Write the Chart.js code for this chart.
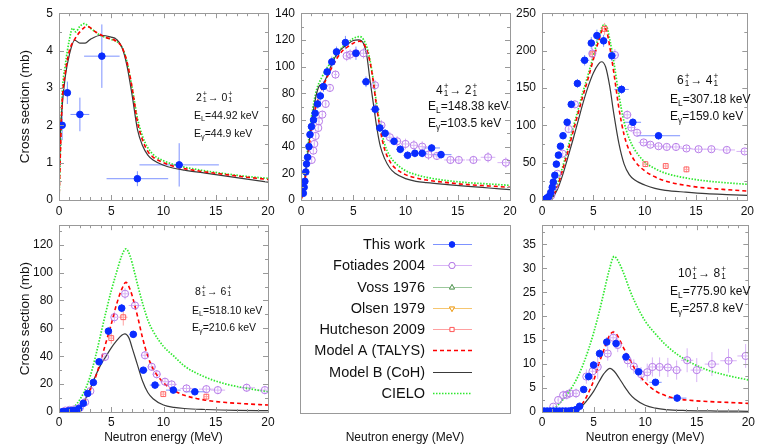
<!DOCTYPE html>
<html>
<head>
<meta charset="utf-8">
<script src="https://cdn.jsdelivr.net/npm/chart.js@4/dist/chart.umd.min.js"></script>
<style>
body { margin: 0; background: #fff; }
#wrap { position: relative; width: 758px; height: 447px; overflow: hidden; font-family: 'Liberation Sans', Arial, Helvetica, sans-serif; }
.ann { position: absolute; color: #111; white-space: nowrap; line-height: 1; }
.ss { display: inline-flex; flex-direction: column; vertical-align: middle; font-size: 0.68em; line-height: 0.8em; margin: 0 1px; }
.ann sub { font-size: 0.7em; vertical-align: -0.3em; line-height: 0; }
</style>
</head>
<body>
<div id="wrap"></div>
<script>
// [x (MeV), sigma (mb), x error, sigma error]
const p1ThisWork = [[0.3,2.0,0.15,0.4],[0.8,2.87,0.2,0.3],[2.0,2.29,0.9,0.45],[4.1,3.85,1.7,0.85],[7.5,0.57,2.95,0.2],[11.5,0.94,3.8,0.58]];
const p1ModelA = [[0,0],[0.3,2.6],[0.6,3.4],[1,4.0],[1.5,4.3],[2,4.5],[2.7,4.65],[3.5,4.5],[4.5,4.35],[5.5,4.25],[6,4.1],[6.5,3.7],[7,3.0],[7.5,2.1],[8,1.6],[8.5,1.3],[9,1.15],[10,1.0],[11,0.9],[12,0.84],[14,0.75],[16,0.68],[18,0.61],[20,0.55]];
const p1ModelB = [[0,0],[0.1,1.5],[0.3,2.5],[0.6,3.3],[1,3.9],[1.5,4.28],[2,4.2],[2.5,4.2],[3,4.3],[4,4.41],[5,4.36],[5.5,4.3],[6,4.1],[6.5,3.6],[7,2.8],[7.5,1.9],[8,1.45],[8.5,1.2],[9,1.07],[10,0.93],[11,0.85],[12,0.8],[14,0.72],[16,0.64],[18,0.56],[20,0.48]];
const p1Cielo = [[0,0],[0.3,2.8],[0.6,3.6],[1,4.3],[1.3,4.6],[1.6,4.5],[2,4.65],[2.4,4.72],[3,4.6],[4,4.4],[5,4.3],[6,4.1],[6.5,3.7],[7,3.0],[7.5,2.2],[8,1.7],[8.5,1.4],[9,1.22],[10,1.05],[12,0.88],[14,0.78],[16,0.7],[18,0.63],[20,0.58]];

const p2ThisWork = [[0.22,5,0.05,2],[0.3,9.5,0.05,2],[0.37,14,0.05,2],[0.46,21,0.05,2.5],[0.53,27,0.05,2.5],[0.63,32,0.05,3],[0.76,40,0.06,3],[0.86,49,0.06,3],[1.0,55,0.07,3],[1.2,60,0.08,3],[1.35,65,0.08,3],[1.6,72,0.1,3.5],[1.85,78,0.1,3.5],[2.15,85,0.12,4],[2.5,96,0.12,4],[2.95,103.5,0.15,4],[3.4,111,0.2,4],[4.25,118,0.3,5],[5.26,110,0.4,5],[6.22,88.6,0.4,4],[7.1,68,0.45,4],[7.55,54,0.3,3],[8.05,50,0.35,3],[8.9,44,0.4,3],[9.5,38,0.4,3],[10.2,33.5,0.4,3],[10.9,35,0.4,3],[11.6,35,0.5,3],[12.5,39,0.8,3],[13.4,34,1.0,3]];
const p2Fotiades = [[1.02,30,0.05,3],[1.18,37,0.05,3],[1.27,42,0.05,3],[1.4,48,0.06,3],[1.65,54,0.06,3],[1.72,59,0.06,3],[2.04,64,0.08,3],[2.36,72,0.1,3],[2.77,84,0.12,3],[3.3,94,0.15,3],[4.37,108,0.2,4],[4.7,109,0.2,4],[5.24,110,0.25,4],[5.98,110,0.3,4],[7.08,86,0.3,4],[7.7,56,0.3,4],[8.5,47,0.35,4],[9.2,44,0.4,4],[10.0,42,0.4,4],[10.8,41,0.4,4],[11.6,40,0.5,4],[12.2,34,0.5,4],[13.0,33,0.5,3],[14.3,30,0.6,3],[15.1,30,0.6,3],[16.5,30,0.7,3],[17.9,32,0.7,4],[19.6,28,0.8,4]];
const p2ModelA = [[0,0],[0.25,7],[0.5,22],[0.75,38],[1,52],[1.25,64],[1.5,72],[2,83],[2.5,92],[3,100],[3.5,107],[4,112],[4.5,115],[5,117.5],[5.6,119],[6,117],[6.4,110],[6.8,95],[7.2,72],[7.6,52],[8,38],[8.5,29],[9,24],[10,19],[11,16.5],[12,15],[14,13],[16,11.5],[18,10.5],[20,9.5]];
const p2ModelB = [[0,0],[0.25,8],[0.5,25],[0.75,42],[1,57],[1.25,70],[1.5,80],[1.8,86],[2.1,87],[2.5,93],[3,103],[3.5,110],[4,114],[4.5,117],[5,119.5],[5.5,120],[6,117],[6.3,108],[6.6,90],[7,68],[7.3,52],[7.6,40],[8,31],[8.5,24],[9,20],[10,16],[11,14],[12,13],[14,11.5],[16,10.2],[18,9],[20,7.8]];
const p2Cielo = [[0,0],[0.25,9],[0.5,28],[0.75,46],[1,62],[1.25,74],[1.5,83],[2,92],[2.5,99],[3,105],[3.5,110],[4,115],[4.5,118],[5,121],[5.6,122.5],[6,120],[6.4,112],[6.8,96],[7.2,74],[7.6,55],[8,42],[8.5,33],[9,28],[10,22],[11,19],[12,17],[14,14.5],[16,13],[18,12],[20,11]];

const p3ThisWork = [[0.1,0.5,0.05,1],[0.3,1,0.05,1],[0.5,3,0.05,1.5],[0.7,5,0.05,2],[0.85,10,0.05,2],[1.0,17,0.05,3],[1.1,24,0.05,3],[1.25,33,0.06,3],[1.4,48,0.07,4],[1.6,60,0.08,4],[1.8,72,0.1,4],[2.05,86,0.1,4],[2.45,104,0.12,5],[2.85,128,0.15,5],[3.45,156,0.2,6],[4.15,187,0.45,7],[4.8,210,0.3,8],[5.35,220,0.3,8],[6.0,213,0.3,8],[6.8,193,0.35,7],[7.75,148,0.7,6],[8.85,104,0.8,5],[11.35,86,2.1,5]];
const p3Fotiades = [[0.6,2,0.05,1],[0.9,6,0.05,2],[1.2,18,0.06,3],[1.5,35,0.08,3],[2.0,62,0.1,4],[2.6,95,0.12,5],[3.2,128,0.15,5],[4.9,196,0.25,8],[7.1,194,0.35,8],[8.3,114,0.4,6],[8.7,97,0.4,5],[9.26,90,0.45,5],[9.9,77,0.5,4],[10.55,74,0.5,4],[11.35,72,0.5,4],[12.15,71,0.55,4],[13.05,71,0.6,4],[14.07,69,0.6,4],[15.25,68,0.7,4],[16.5,68,0.7,4],[18.0,67,0.8,4],[19.74,65,0.8,4]];
const p3Hutcheson = [[4.9,195,0.2,6],[6.1,229,0.2,8],[10.07,48,0.2,4],[12.05,45.5,0.2,4],[14.07,41,0.2,4]];
const p3ModelA = [[0,0],[0.5,0.5],[1,4],[1.5,18],[2,40],[2.5,64],[3,90],[3.5,115],[4,140],[4.5,163],[5,188],[5.5,212],[6,230],[6.3,226],[6.6,205],[7,170],[7.5,122],[8,87],[8.5,66],[9,53],[10,39],[11,31],[12,25.5],[14,19.5],[16,16],[18,13.8],[20,12]];
const p3ModelB = [[0,0],[0.5,0.5],[1,3],[1.5,14],[2,33],[2.5,56],[3,80],[3.5,105],[4,130],[4.5,152],[5,170],[5.5,182],[5.8,185],[6.2,178],[6.6,152],[7,115],[7.5,75],[8,48],[8.5,34],[9,27],[10,20],[11,15.5],[12,13],[14,10.5],[16,8.5],[18,7.3],[20,6.3]];
const p3Cielo = [[0,0],[0.5,0.6],[1,5],[1.5,21],[2,44],[2.5,69],[3,95],[3.5,120],[4,145],[4.5,168],[5,193],[5.5,217],[6,234],[6.3,232],[6.6,215],[7,184],[7.5,140],[8,104],[8.5,82],[9,68],[10,51],[11,42],[12,36],[14,29.5],[16,25.5],[18,23],[20,21]];

const p4ThisWork = [[0.3,0.2,0.05,0.5],[0.57,0.3,0.05,0.5],[0.9,0.8,0.05,0.5],[1.2,1.0,0.05,0.6],[1.5,1.2,0.06,0.6],[1.9,2.5,0.08,0.8],[2.33,6.2,0.1,1],[2.74,13.3,0.12,1.5],[3.29,21.2,0.15,2],[3.83,36,0.2,2],[4.73,58,0.25,2.5],[6.0,74.5,0.3,3],[7.11,55.7,0.35,2.5],[8.07,30,0.4,2],[9.19,19.3,0.5,2],[10.94,15.7,0.7,2],[13.0,14.5,1.0,2]];
const p4Fotiades = [[0.6,1,0.1,1],[1.0,1.5,0.1,1],[1.5,2,0.1,1],[2.0,3,0.1,1.5],[2.5,7,0.1,1.5],[3.0,15,0.15,2],[4.4,39.5,0.2,3],[5.3,68,0.25,4],[6.32,84.8,0.3,4],[7.27,76.4,0.6,3],[8.23,40.7,0.4,3],[8.87,32.4,0.4,3],[9.35,27.1,0.4,3],[10.14,21.7,0.5,3],[10.78,19.8,0.5,3],[12.2,16.9,0.6,3],[14.1,16.4,0.7,3],[15.2,15.7,0.7,3],[17.96,17.4,0.8,3],[19.7,15.7,0.8,3]];
const p4Hutcheson = [[5.0,53,0.2,4],[6.15,68,0.4,6],[9.98,12.8,0.2,2],[14.1,11,0.2,2]];
const p4ModelA = [[0,0],[1,0.3],[1.5,1],[2,3],[2.5,8],[3,16],[3.5,25],[4,37],[4.5,50],[5,63],[5.5,77],[6,88],[6.4,93],[6.8,88],[7.2,78],[7.6,66],[8,53],[8.5,40],[9,31],[10,21],[11,15.5],[12,12],[14,8.5],[16,6.8],[18,5.8],[20,5]];
const p4ModelB = [[0,0],[1,0.2],[1.5,1],[2,4],[2.5,9],[3,17],[3.5,26],[4,34],[4.5,40],[5,46],[5.5,51],[6,55],[6.3,56],[6.7,53],[7,46],[7.5,34],[8,22],[8.5,14],[9,9.5],[10,5],[11,3.3],[12,2.5],[14,1.8],[17,1.2],[20,1]];
const p4Cielo = [[0,0],[1,1.5],[1.5,4],[2,9],[2.5,16],[3,26],[3.5,40],[4,56],[4.5,72],[5,87],[5.5,100],[6,112],[6.4,117],[6.8,112],[7.2,101],[7.6,89],[8,78],[8.5,66],[9,58],[10,47],[11,40],[12,33],[14,25],[16,20],[18,17],[20,14.5]];

const p6ThisWork = [[0.2,0.2,0.1,0.3],[0.5,0.2,0.1,0.3],[0.8,0.2,0.1,0.3],[1.1,0.2,0.1,0.3],[1.4,0.2,0.1,0.3],[1.7,0.2,0.1,0.3],[2.0,0.2,0.1,0.3],[2.3,0.2,0.1,0.3],[2.6,0.2,0.1,0.3],[2.9,0.3,0.1,0.3],[3.3,0.5,0.1,0.3],[3.65,1.2,0.15,0.4],[4.04,4.7,0.15,0.6],[4.52,7.4,0.2,0.8],[5.0,9.8,0.2,0.8],[5.58,12.2,0.25,0.9],[6.28,14.6,0.3,1],[7.18,14.3,0.3,1],[8.14,11.5,0.4,0.9],[9.36,8.4,0.45,0.8],[11.0,6.2,0.6,0.7],[13.1,2.9,0.9,0.5]];
const p6Fotiades = [[1.09,1.1,0.1,0.5],[1.57,2.5,0.1,0.8],[2.05,3.5,0.15,1],[2.4,3.6,0.15,1],[2.7,3.9,0.15,1],[3.3,3.9,0.2,1],[4.3,7.4,0.2,1.5],[4.9,8.5,0.2,2],[5.4,9.4,0.25,2.5],[6.37,12.2,0.3,1.5],[6.9,15.5,0.3,1.5],[7.34,14,0.3,1.5],[8.3,10.8,0.4,1.5],[8.9,9.5,0.4,1.5],[9.6,7.9,0.4,1.5],[10.2,8.3,0.4,1.8],[10.7,9.4,0.4,2],[11.4,9.4,0.5,2],[12.2,9.3,0.5,2],[13.05,8.75,0.5,2],[14.07,10.8,0.6,2.5],[15.0,8.75,0.6,2.5],[16.47,10,0.7,2.5],[18.08,10.7,0.8,2.5],[19.74,11.7,0.8,2.5]];
const p6ModelA = [[0,0],[2,0],[3,0.3],[3.5,0.8],[4,2],[4.5,4],[5,6.5],[5.5,10],[6,13],[6.5,15.8],[6.9,16.7],[7.3,16],[7.7,14.3],[8,13],[8.5,11],[9,9],[10,6.2],[11,4.4],[12,3.4],[13,2.8],[14,2.5],[16,2.2],[18,2.0],[20,1.8]];
const p6ModelB = [[0,0],[3,0.2],[3.5,0.6],[4,1.5],[4.5,2.8],[5,4.3],[5.5,6.2],[6,8],[6.6,9.1],[7,8.5],[7.5,7],[8,5.3],[8.5,3.8],[9,2.7],[10,1.4],[11,0.8],[12,0.5],[14,0.3],[17,0.2],[20,0.15]];
const p6Cielo = [[0,0],[1,0.5],[2,2.5],[3,5.5],[3.5,7.5],[4,10],[4.5,13],[5,16.5],[5.5,20.5],[6,25],[6.5,29.5],[7,32.5],[7.5,31],[8,28.5],[8.5,25.5],[9,23],[10,19],[11,16.3],[12,14],[13,12.2],[14,10.8],[15,9.7],[16,8.8],[18,7.6],[20,6.7]];

const transitions = [['2','0'],['4','2'],['6','4'],['8','6'],['10','8']];
const levelEnergies = ['44.92','148.38','307.18','518.10','775.90'];
const gammaEnergies = ['44.9','103.5','159.0','210.6','257.8'];
const legendNames = ['This work','Fotiades 2004','Voss 1976','Olsen 1979','Hutcheson 2009','Model A (TALYS)','Model B (CoH)','CIELO'];

Chart.defaults.font.family = "'Liberation Sans', Arial, Helvetica, sans-serif";
Chart.defaults.color = '#111';
Chart.defaults.animation = false;

const look = {
  'This work': {color: '#0a2cff', err: '#7d92ff', marker: 'circle', fill: true, r: 3.3},
  'Fotiades 2004': {color: '#b77ce8', err: '#d8b4f6', marker: 'circle', fill: false, r: 3.6},
  'Voss 1976': {color: '#5a9a5a', err: '#9cc89c', marker: 'triangle', fill: false, r: 3.5},
  'Olsen 1979': {color: '#f0a020', err: '#f6c670', marker: 'triangle', rot: 180, fill: false, r: 3.5},
  'Hutcheson 2009': {color: '#ff6060', err: '#ffa0a0', marker: 'rect', fill: false, r: 3.4},
  'Model A (TALYS)': {color: '#ff0000', dash: [4, 3], width: 1.6},
  'Model B (CoH)': {color: '#3a3a3a', dash: [], width: 1.2},
  'CIELO': {color: '#2ee82e', dash: [1.5, 1.5], width: 1.7}
};

const errorBars = {
  id: 'errorBars',
  beforeDatasetsDraw(chart) {
    const ctx = chart.ctx, xs = chart.scales.x, ys = chart.scales.y, a = chart.chartArea;
    ctx.save();
    ctx.beginPath();
    ctx.rect(a.left, a.top, a.right - a.left, a.bottom - a.top);
    ctx.clip();
    ctx.lineWidth = 1;
    chart.data.datasets.forEach(ds => {
      if (!ds.errColor) return;
      ctx.strokeStyle = ds.errColor;
      ds.data.forEach(p => {
        const x = xs.getPixelForValue(p.x), y = ys.getPixelForValue(p.y);
        ctx.beginPath();
        ctx.moveTo(xs.getPixelForValue(p.x - p.xe), y);
        ctx.lineTo(xs.getPixelForValue(p.x + p.xe), y);
        ctx.moveTo(x, ys.getPixelForValue(p.y - p.ye));
        ctx.lineTo(x, ys.getPixelForValue(p.y + p.ye));
        ctx.stroke();
      });
    });
    ctx.restore();
  }
};

// gnuplot-like box with inward ticks on all sides
const frame = {
  id: 'frame',
  afterDraw(chart) {
    const ctx = chart.ctx, xs = chart.scales.x, ys = chart.scales.y, a = chart.chartArea;
    ctx.save();
    ctx.strokeStyle = '#999';
    ctx.lineWidth = 1;
    ctx.strokeRect(Math.round(a.left) + 0.5, Math.round(a.top) + 0.5, Math.round(a.right - a.left), Math.round(a.bottom - a.top));
    ctx.beginPath();
    for (let v = 0; v <= 20; v++) {
      const len = v % 5 === 0 ? 5 : 3;
      const x = Math.round(xs.getPixelForValue(v)) + 0.5;
      ctx.moveTo(x, a.bottom); ctx.lineTo(x, a.bottom - len);
      ctx.moveTo(x, a.top); ctx.lineTo(x, a.top + len);
    }
    const step = ys.options.ticks.stepSize / 2;
    for (let i = 0; i * step <= ys.max + 1e-9; i++) {
      const len = i % 2 === 0 ? 5 : 3;
      const y = Math.round(ys.getPixelForValue(i * step)) + 0.5;
      ctx.moveTo(a.left, y); ctx.lineTo(a.left + len, y);
      ctx.moveTo(a.right, y); ctx.lineTo(a.right - len, y);
    }
    ctx.stroke();
    ctx.restore();
  }
};

function points(name, rows) {
  const s = look[name];
  return {
    label: name,
    data: rows.map(r => ({x: r[0], y: r[1], xe: r[2], ye: r[3]})),
    showLine: false,
    pointStyle: s.marker,
    rotation: s.rot || 0,
    pointRadius: s.r,
    pointBorderWidth: 1,
    pointBorderColor: s.color,
    pointBackgroundColor: s.fill ? s.color : 'rgba(255,255,255,0)',
    borderColor: s.color,
    backgroundColor: s.color,
    errColor: s.err
  };
}

function curve(name, rows) {
  const s = look[name];
  return {
    label: name,
    data: rows.map(r => ({x: r[0], y: r[1]})),
    borderColor: s.color,
    borderWidth: s.width,
    borderDash: s.dash,
    pointRadius: 0,
    cubicInterpolationMode: 'monotone',
    fill: false
  };
}

function addCanvas(box) {
  const c = document.createElement('canvas');
  c.width = box.w;
  c.height = box.h;
  c.style.cssText = 'position:absolute;left:' + box.l + 'px;top:' + box.t + 'px';
  document.getElementById('wrap').appendChild(c);
  return c;
}

function panel(box, yMax, yStep, datasets) {
  new Chart(addCanvas(box), {
    type: 'line',
    data: {datasets: datasets},
    options: {
      responsive: false,
      layout: {padding: {left: 0, right: box.pr, top: 13, bottom: 0}},
      plugins: {legend: {display: false}, tooltip: {enabled: false}},
      scales: {
        x: {
          type: 'linear', min: 0, max: 20,
          ticks: {stepSize: 5, padding: box.bottomRow ? 3 : 4, font: {size: 12}, maxRotation: 0},
          grid: {display: false, drawTicks: false},
          border: {display: false},
          title: {display: box.bottomRow, text: 'Neutron energy (MeV)', font: {size: 12}, padding: {top: 0, bottom: 2}},
          afterFit: s => { s.height = box.bottomRow ? 35 : 22; }
        },
        y: {
          type: 'linear', min: 0, max: yMax,
          ticks: {stepSize: yStep, includeBounds: false, padding: 6, font: {size: 12}},
          grid: {display: false, drawTicks: false},
          border: {display: false},
          title: {display: box.yTitle, text: 'Cross section (mb)', font: {size: 13.5}, padding: {top: 17, bottom: 0}},
          afterFit: s => { s.width = box.yw; }
        }
      }
    },
    plugins: [errorBars, frame]
  });
}

panel({l: 0, t: 0, w: 280, h: 222, pr: 12, yw: 59, yTitle: true}, 5, 1, [
  points('This work', p1ThisWork),
  curve('Model A (TALYS)', p1ModelA), curve('Model B (CoH)', p1ModelB), curve('CIELO', p1Cielo)
]);
panel({l: 262, t: 0, w: 260, h: 222, pr: 12, yw: 39}, 140, 20, [
  points('This work', p2ThisWork), points('Fotiades 2004', p2Fotiades),
  curve('Model A (TALYS)', p2ModelA), curve('Model B (CoH)', p2ModelB), curve('CIELO', p2Cielo)
]);
panel({l: 503, t: 0, w: 255, h: 222, pr: 8, yw: 39}, 250, 50, [
  points('This work', p3ThisWork), points('Fotiades 2004', p3Fotiades), points('Hutcheson 2009', p3Hutcheson),
  curve('Model A (TALYS)', p3ModelA), curve('Model B (CoH)', p3ModelB), curve('CIELO', p3Cielo)
]);
panel({l: 0, t: 212, w: 280, h: 235, pr: 12, yw: 59, yTitle: true, bottomRow: true}, 134, 20, [
  points('This work', p4ThisWork), points('Fotiades 2004', p4Fotiades), points('Hutcheson 2009', p4Hutcheson),
  curve('Model A (TALYS)', p4ModelA), curve('Model B (CoH)', p4ModelB), curve('CIELO', p4Cielo)
]);
panel({l: 503, t: 212, w: 255, h: 235, pr: 8, yw: 39, bottomRow: true}, 39, 5, [
  points('This work', p6ThisWork), points('Fotiades 2004', p6Fotiades),
  curve('Model A (TALYS)', p6ModelA), curve('Model B (CoH)', p6ModelB), curve('CIELO', p6Cielo)
]);

// legend panel: a chart with empty series, its key drawn in a box
const legendBox = {
  id: 'legendBox',
  afterDraw(chart) {
    const ctx = chart.ctx, a = chart.chartArea;
    ctx.save();
    ctx.strokeStyle = '#999';
    ctx.lineWidth = 1;
    ctx.strokeRect(Math.round(a.left) + 0.5, Math.round(a.top) + 0.5, Math.round(a.right - a.left), Math.round(a.bottom - a.top));
    ctx.font = "14.5px 'Liberation Sans', Arial, Helvetica, sans-serif";
    ctx.textAlign = 'right';
    ctx.textBaseline = 'middle';
    chart.data.datasets.forEach((ds, i) => {
      const s = look[ds.label];
      const y = Math.round(a.top + 19 + i * 21.25) + 0.5;
      const x0 = a.left + 133, x1 = a.left + 172, xm = a.left + 152;
      ctx.fillStyle = '#111';
      ctx.fillText(ds.label, a.left + 125, y);
      ctx.beginPath();
      ctx.setLineDash(s.dash || []);
      ctx.lineWidth = s.width || 1;
      ctx.strokeStyle = s.err || s.color;
      ctx.moveTo(x0, y);
      ctx.lineTo(x1, y);
      ctx.stroke();
      ctx.setLineDash([]);
      if (s.marker) {
        Chart.helpers.drawPoint(ctx, {pointStyle: s.marker, radius: s.r - 0.5, rotation: s.rot || 0, borderWidth: 1}, xm, y);
        ctx.lineWidth = 1;
        ctx.strokeStyle = s.color;
        ctx.fillStyle = s.fill ? s.color : '#fff';
        ctx.beginPath();
        Chart.helpers.drawPoint(ctx, {pointStyle: s.marker, radius: s.r - 0.5, rotation: s.rot || 0, borderWidth: 1}, xm, y);
      }
    });
    ctx.restore();
  }
};

new Chart(addCanvas({l: 290, t: 212, w: 230, h: 235}), {
  type: 'line',
  data: {datasets: legendNames.map(n => ({label: n, data: []}))},
  options: {
    responsive: false,
    layout: {padding: {left: 10, right: 10, top: 13, bottom: 0}},
    plugins: {legend: {display: false}, tooltip: {enabled: false}},
    scales: {
      x: {
        type: 'linear', min: 0, max: 20,
        ticks: {display: false},
        grid: {display: false, drawTicks: false},
        border: {display: false},
        title: {display: true, text: 'Neutron energy (MeV)', font: {size: 12}, padding: {top: 0, bottom: 2}},
        afterFit: s => { s.height = 34; }
      },
      y: {display: false, min: 0, max: 1}
    }
  },
  plugins: [legendBox]
});

// level annotations: [title left, title y, E left, E_L y, E_gamma y, font size]
const notePos = [[196, 97, 194, 115, 133, 10.5], [436, 90, 428, 106, 123, 12], [677, 80, 670, 99, 116, 12], [195, 291, 192, 310, 327, 10.5], [678, 273, 670, 291, 308, 12]];
function note(left, cy, size, html) {
  const d = document.createElement('div');
  d.className = 'ann';
  d.style.left = left + 'px';
  d.style.top = (cy - size / 2) + 'px';
  d.style.fontSize = size + 'px';
  d.innerHTML = html;
  document.getElementById('wrap').appendChild(d);
}
notePos.forEach((p, i) => {
  const st = '<span class="ss"><span>+</span><span>1</span></span>';
  note(p[0], p[1], p[5], transitions[i][0] + st + '\u2192 ' + transitions[i][1] + st);
  note(p[2], p[3], p[5], 'E<sub>L</sub>=' + levelEnergies[i] + ' keV');
  note(p[2], p[4], p[5], 'E<sub>\u03b3</sub>=' + gammaEnergies[i] + ' keV');
});
</script>
</body>
</html>
